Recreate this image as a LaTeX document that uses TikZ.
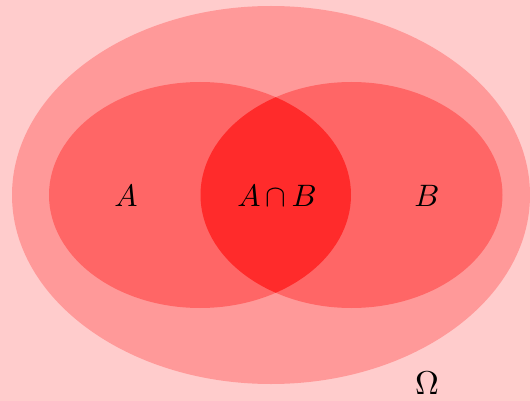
\documentclass[tikz,border=0pt]{standalone}
\usepackage{amsmath}
\definecolor{bgpink}{HTML}{FFCCCC}
\definecolor{omegafill}{HTML}{FF9999}
\definecolor{setfill}{HTML}{FF6666}
\definecolor{capfill}{HTML}{FF2B2B}
\tikzset{lbl/.style={inner sep=0pt}}
\begin{document}
\begin{tikzpicture}[x=1pt,y=-1pt]
\fill[bgpink] (0,0) rectangle (530,401);
\useasboundingbox (0,0) rectangle (530,401);
\begin{scope}
\clip (0,0) rectangle (530,401);
\fill[omegafill] (271,195) ellipse [x radius=259, y radius=189];
\end{scope}
\fill[setfill] (200,195) ellipse [x radius=151, y radius=113];
\fill[setfill] (351.5,195) ellipse [x radius=151, y radius=113];
\begin{scope}
\clip (200,195) ellipse [x radius=151, y radius=113];
\fill[capfill] (351.5,195) ellipse [x radius=151, y radius=113];
\end{scope}
\node[lbl] (a) at (126,196) {\scalebox{3.1}{$A$}};
\node[lbl] (ab) at (277,196) {\scalebox{3.1}{$A{\,\cap\,}B$}};
\node[lbl] (b) at (427,196) {\scalebox{3.1}{$B$}};
\node[lbl] (om) at (427,383) {\scalebox{3.3}{$\Omega$}};
\end{tikzpicture}
\end{document}
